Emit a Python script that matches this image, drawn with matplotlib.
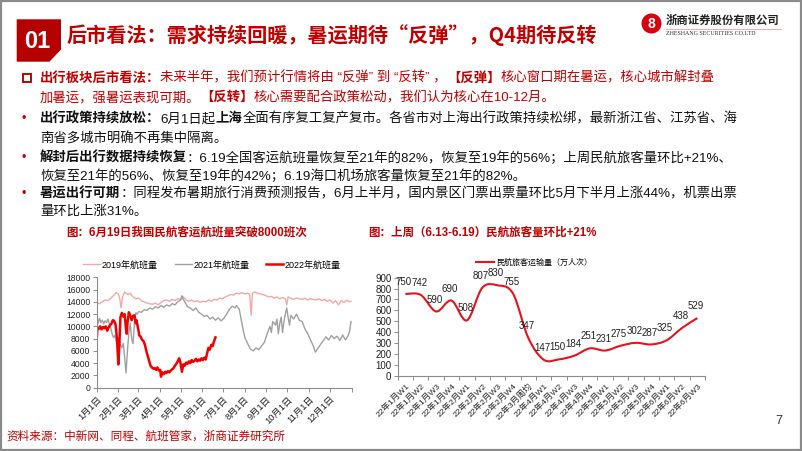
import matplotlib
matplotlib.use('Agg')
import matplotlib.pyplot as plt
from matplotlib.patches import Polygon, Rectangle, Circle, PathPatch
from matplotlib.path import Path
from matplotlib.lines import Line2D
import numpy as np

plt.rcParams['font.family'] = ['Liberation Sans', 'Noto Sans CJK SC', 'DejaVu Sans']
CJK = ['Noto Sans CJK SC', 'DejaVu Sans']

# ---------------- data ----------------
# left chart: daily flights (sampled by day of year)
days_2019 = [0, 4, 8, 12, 16, 20, 24, 28, 31, 33, 35, 37, 40, 44, 48, 52, 56, 60, 64, 68, 72, 76, 80, 84,
             88, 92, 96, 100, 104, 108, 112, 116, 120, 124, 128, 132, 136, 140, 144, 148, 152, 156, 160,
             164, 168, 172, 176, 180, 184, 188, 192, 196, 200, 204, 208, 212, 216, 219, 221, 223, 226, 230,
             234, 238, 242, 246, 250, 254, 258, 262, 266, 270, 272, 274, 278, 282, 286, 290, 294, 298, 302,
             306, 310, 314, 318, 322, 326, 330, 334, 338, 342, 346, 350, 354, 358, 362, 364]
flights_2019 = [13800, 13700, 14000, 14300, 14200, 14600, 15000, 15500, 15300, 14500, 13000, 14800, 15600,
                15200, 15400, 14800, 14500, 14600, 14200, 14000, 13800, 13700, 13600, 13800, 13500, 13900,
                14200, 14300, 14100, 14400, 14200, 14500, 14400, 14800, 14300, 14100, 14300, 14000, 14200,
                13900, 14100, 14000, 14300, 14100, 14400, 14300, 14600, 14500, 14800, 15000, 15200, 15100,
                15400, 15300, 15500, 15300, 15400, 15200, 11800, 15400, 15600, 15400, 15300, 15200, 15000,
                14800, 14900, 14600, 14800, 14500, 14700, 14500, 13500, 14800, 14600, 14400, 14600, 14500,
                14400, 14600, 14300, 14500, 14400, 14300, 14500, 14200, 14400, 14100, 14300, 13800, 14200,
                13500, 14200, 13900, 14300, 14000, 14100]

days_2021 = [0, 2, 4, 6, 8, 10, 12, 14, 16, 18, 20, 22, 24, 26, 28, 30, 32, 34, 36, 38, 40, 42, 44, 46, 48,
             50, 52, 54, 56, 58, 60, 64, 68, 72, 76, 80, 84, 88, 92, 96, 100, 104, 108, 112, 116, 120, 122,
             124, 126, 130, 134, 138, 142, 146, 150, 154, 158, 162, 166, 170, 174, 178, 182, 186, 190, 194,
             198, 200, 204, 207, 209, 212, 216, 220, 224, 228, 232, 236, 240, 244, 248, 250, 252, 256, 258,
             260, 262, 264, 266, 268, 270, 272, 274, 276, 278, 282, 286, 290, 294, 298, 302, 306, 310, 313,
             316, 320, 324, 328, 332, 336, 340, 344, 348, 352, 356, 360, 362, 364]
flights_2021 = [11800, 10500, 11300, 10600, 11000, 10400, 10900, 10600, 11200, 10500, 9800, 8800, 8200, 8500,
                7600, 8200, 7800, 7000, 6500, 7200, 5000, 2400, 6000, 9000, 10500, 8000, 7200, 10500, 12200,
                12000, 12400, 12300, 12700, 12600, 13000, 12800, 13200, 13000, 13400, 13100, 13500, 13300,
                13700, 13500, 14000, 14300, 15000, 14400, 14000, 13200, 13000, 12600, 13000, 12300, 12000,
                11600, 11800, 11200, 11500, 11000, 11400, 10900, 11300, 12000, 12800, 13300, 13000, 13400,
                12800, 11000, 9800, 8200, 7200, 6300, 6000, 6500, 6200, 6800, 7400, 8800, 10000, 9000, 10800,
                10200, 11200, 8800, 10500, 11500, 9000, 10800, 12000, 13000, 11500, 10200, 11800, 11200, 12000,
                11000, 10800, 9600, 8800, 7800, 6800, 5800, 6300, 7000, 7600, 8300, 7800, 8500, 8000, 8400,
                7700, 8600, 7800, 8500, 9200, 10800]

days_2022 = [0, 1, 3, 5, 7, 9, 11, 13, 15, 17, 19, 21, 23, 25, 27, 29, 31, 32, 34, 36, 38, 40, 42, 43, 44,
             46, 48, 50, 52, 54, 56, 57, 59, 61, 63, 65, 67, 69, 71, 73, 75, 77, 79, 81, 83, 85, 87, 89, 91,
             92, 94, 96, 98, 100, 102, 104, 106, 108, 110, 112, 114, 116, 118, 120, 122, 124, 126, 128, 130,
             132, 134, 136, 138, 140, 142, 144, 146, 148, 150, 152, 154, 156, 158, 160, 162, 164, 166, 168, 170]
flights_2022 = [7800, 9800, 9600, 10000, 9500, 9900, 9700, 10000, 9300, 9800, 10200, 10400, 11000, 10900,
                10300, 8000, 3800, 6000, 11500, 12200, 11600, 12000, 9500, 8800, 10500, 12300, 11800, 11000,
                11700, 11800, 10500, 11000, 9800, 8500, 8300, 7800, 7600, 7000, 6000, 5200, 4400, 3600, 3300,
                3100, 3200, 2900, 3300, 2800, 2900, 1800, 2500, 2200, 2600, 2400, 2700, 2500, 2800, 3000, 3200,
                3600, 3900, 4300, 4800, 4000, 2600, 3800, 3600, 4100, 3900, 4300, 4000, 4500, 4200, 4400, 4700,
                4300, 4600, 4400, 4800, 4500, 4900, 4600, 5600, 6500, 6200, 7000, 6800, 7600, 8200]

month_ticks = [0, 31, 59, 90, 120, 151, 181, 212, 243, 273, 304, 334, 365]
month_labels = ['1月1日', '2月1日', '3月1日', '4月1日', '5月1日', '6月1日', '7月1日', '8月1日',
                '9月1日', '10月1日', '11月1日', '12月1日', '']
series_names = ['2019年航班量', '2021年航班量', '2022年航班量']

# right chart: weekly passengers (10k)
weeks = ['22年1月W1', '22年1月W2', '22年1月W3', '22年1月W4', '22年2月W1', '22年2月W2', '22年2月W3',
         '22年2月W4', '22年3月周均', '22年4月W1', '22年4月W2', '22年4月W3', '22年4月W4', '22年5月W1',
         '22年5月W2', '22年5月W3', '22年5月W4', '22年6月W1', '22年6月W2', '22年6月W3']
passengers = [750, 742, 590, 690, 508, 807, 830, 755, 347, 147, 150, 184, 251, 231, 275, 302, 287, 325, 438, 529]

# ---------------- figure ----------------
W, H = 802, 451
RED = '#C00000'
fig = plt.figure(figsize=(W / 100, H / 100), dpi=100)
bg = fig.add_axes([0, 0, 1, 1], zorder=0)
bg.set_xlim(0, W)
bg.set_ylim(H, 0)
bg.axis('off')

# slide frame
bg.add_patch(Rectangle((0.8, 0.8), W - 1.6, H - 1.6, fill=False, ec='#8a8a8a', lw=1.6))

# header
bg.add_patch(Polygon([(16.7, 19.3), (61, 19.3), (61, 49.5), (49.5, 61.7), (16.7, 61.7)],
                     closed=True, fc='#B50000', ec='none'))
bg.text(37.5, 41, '01', color='white', fontsize=17, weight='bold', ha='center', va='center')
bg.text(67, 35, '后市看法：需求持续回暖，暑运期待“反弹”，Q4期待反转', color=RED, fontsize=14.5,
        weight='bold', ha='left', va='center', family=CJK)

# logo
bg.add_patch(Circle((651.5, 23.5), 10, fc='#D7000F', ec='none'))
bg.text(651.5, 23.5, '8', color='white', fontsize=10, weight='bold', ha='center', va='center')
bg.text(666, 20, '浙商证券股份有限公司', color='#222222', fontsize=8.2, weight='bold', ha='left', va='center')
bg.plot([666, 781], [28.5, 28.5], color='#E9A0A0', lw=0.6)
bg.text(666, 33.5, 'ZHESHANG SECURITIES CO.LTD', family='Liberation Serif', color='#333333', fontsize=4.3,
        ha='left', va='center')

FS = 9.6


def text_line(x, y, segs, color):
    prev = bg.text(x, y, segs[0][0], color=color, fontsize=FS, ha='left', va='center',
                   weight='bold' if segs[0][1] else 'normal')
    for txt, bold in segs[1:]:
        prev = bg.annotate(txt, xy=(1, 0.5), xycoords=prev, color=color, fontsize=FS, ha='left',
                           va='center', weight='bold' if bold else 'normal')


bg.add_patch(Rectangle((23, 74), 7.5, 7.5, fill=False, ec=RED, lw=1.4))
text_line(40, 78, [('出行板块后市看法：', True), ('未来半年，我们预计行情将由 “反弹” 到 “反转” ，', False),
                   ('【反弹】', True), ('核心窗口期在暑运，核心城市解封叠', False)], RED)
text_line(40, 98, [('加暑运，强暑运表现可期。', False), ('【反转】', True),
                   ('核心需要配合政策松动，我们认为核心在10-12月。', False)], RED)

for yb in [119, 158, 194]:
    bg.text(24, yb, '•', color=RED, fontsize=9, ha='center', va='center')
text_line(40, 119, [('出行政策持续放松：', True), ('6月1日起', False), ('上海', True),
                    ('全面有序复工复产复市。各省市对上海出行政策持续松绑，最新浙江省、江苏省、海', False)], '#111111')
text_line(40, 139, [('南省多城市明确不再集中隔离。', False)], '#111111')
text_line(40, 158, [('解封后出行数据持续恢复', True),
                    ('：6.19全国客运航班量恢复至21年的82%，恢复至19年的56%；上周民航旅客量环比+21%、', False)],
          '#111111')
text_line(40, 176, [('恢复至21年的56%、恢复至19年的42%；6.19海口机场旅客量恢复至21年的82%。', False)], '#111111')
text_line(40, 194, [('暑运出行可期', True),
                    ('：同程发布暑期旅行消费预测报告，6月上半月，国内景区门票出票量环比5月下半月上涨44%，机票出票', False)],
          '#111111')
text_line(40, 212, [('量环比上涨31%。', False)], '#111111')

# chart titles, source, page number
bg.text(66, 233, '图：6月19日我国民航客运航班量突破8000班次', color=RED, fontsize=8.3, weight='bold',
        ha='left', va='center')
bg.text(368, 233, '图：上周（6.13-6.19）民航旅客量环比+21%', color=RED, fontsize=8.3, weight='bold',
        ha='left', va='center')
bg.text(6, 437, '资料来源：中新网、同程、航班管家，浙商证券研究所', color=RED, fontsize=8.4, ha='left', va='center')
bg.text(779, 421, '7', color='#333333', fontsize=9, ha='center', va='center')

# ---------------- left chart ----------------
ax1 = fig.add_axes([96.7 / W, 1 - 387.7 / H, 255 / W, 110.4 / H], zorder=2)
ax1.patch.set_alpha(0)
ax1.plot(days_2019, flights_2019, color='#F4A7A7', lw=1.0, label=series_names[0])
ax1.plot(days_2021, flights_2021, color='#A0A0A0', lw=1.0, label=series_names[1])
ax1.plot(days_2022, flights_2022, color='#F00000', lw=1.8, label=series_names[2])
ax1.set_xlim(0, 365)
ax1.set_ylim(0, 18000)
ax1.set_yticks(range(0, 18001, 2000))
ax1.set_xticks(month_ticks)
ax1.set_xticklabels(month_labels, rotation=45, ha='right', rotation_mode='anchor')
for s in ['top', 'right']:
    ax1.spines[s].set_visible(False)
for s in ['left', 'bottom']:
    ax1.spines[s].set_color('#8c8c8c')
    ax1.spines[s].set_linewidth(0.8)
ax1.tick_params(axis='y', labelsize=6.2, length=3, width=0.7, color='#8c8c8c', pad=1.5, labelcolor='#222222')
ax1.tick_params(axis='x', labelsize=6.7, length=3, width=0.7, color='#8c8c8c', pad=2, labelcolor='#222222')
ax1.legend(loc='center left', bbox_to_anchor=(-0.054, 1.111), ncol=3, frameon=False, fontsize=6.5,
           handlelength=1.9, handletextpad=0.15, columnspacing=1.9, borderpad=0, borderaxespad=0)

# ---------------- right chart ----------------
ax2 = fig.add_axes([397.7 / W, 1 - 375.7 / H, 307.3 / W, 98 / H], zorder=2)
ax2.patch.set_alpha(0)
xs = np.arange(len(passengers))
pts = np.column_stack([xs, passengers]).astype(float)
n = len(pts)
verts = [tuple(pts[0])]
codes = [Path.MOVETO]
for i in range(n - 1):
    p0 = pts[max(i - 1, 0)]
    p1 = pts[i]
    p2 = pts[i + 1]
    p3 = pts[min(i + 2, n - 1)]
    verts += [tuple(p1 + (p2 - p0) / 6), tuple(p2 - (p3 - p1) / 6), tuple(p2)]
    codes += [Path.CURVE4] * 3
line_color = '#E8121C'
ax2.add_patch(PathPatch(Path(verts, codes), fc='none', ec=line_color, lw=1.5))
for x, v in zip(xs, passengers):
    ax2.annotate(str(v), (x, v), xytext=(-1, 5), textcoords='offset points', ha='center', va='bottom',
                 fontsize=7, color='#222222')
ax2.set_xlim(-0.5, len(weeks) - 0.5)
ax2.set_ylim(0, 900)
ax2.set_yticks(range(0, 901, 100))
ax2.set_xticks(np.arange(len(weeks) + 1) - 0.5)
ax2.set_xticklabels([])
ax2.set_xticks(xs, minor=True)
ax2.set_xticklabels(weeks, minor=True, rotation=45, ha='right', rotation_mode='anchor')
ax2.tick_params(axis='x', which='minor', length=0, labelsize=6.1, pad=4.5, labelcolor='#222222')
ax2.tick_params(axis='both', which='major', labelsize=7, length=3, width=0.7, color='#8c8c8c', pad=1.5,
                labelcolor='#222222')
for s in ['top', 'right']:
    ax2.spines[s].set_visible(False)
for s in ['left', 'bottom']:
    ax2.spines[s].set_color('#8c8c8c')
    ax2.spines[s].set_linewidth(0.8)
ax2.legend(handles=[Line2D([], [], color=line_color, lw=1.5)], labels=['民航旅客运输量（万人次）'],
           loc='center left', bbox_to_anchor=(0.255, 1.15), frameon=False, fontsize=5.8,
           handlelength=2.2, handletextpad=0.3, borderpad=0, borderaxespad=0)

fig.savefig('out.png', dpi=100)
